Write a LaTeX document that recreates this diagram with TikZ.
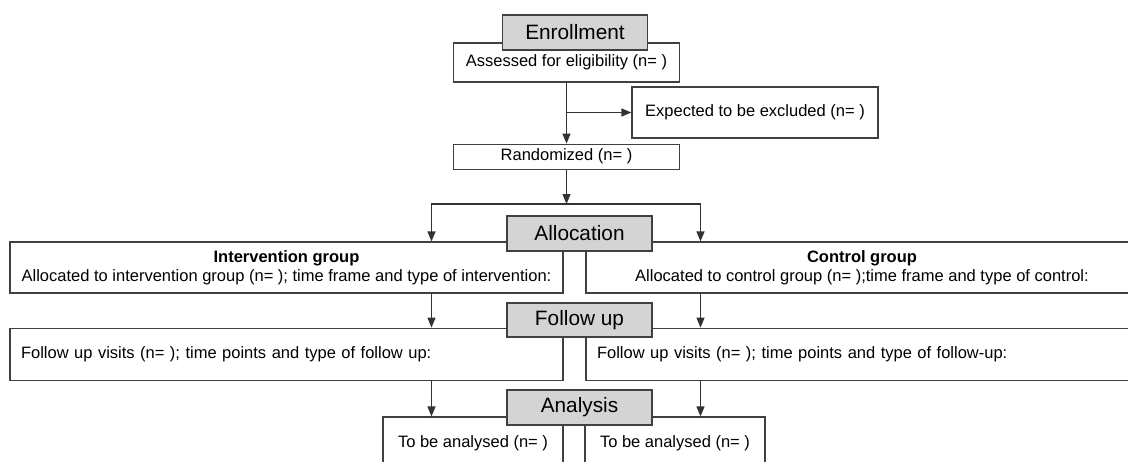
\documentclass[tikz,border=0pt]{standalone}
\usepackage{fontspec}
\setmainfont{Liberation Sans}
\usepackage{tikz}
\usetikzlibrary{positioning, arrows.meta}

\begin{document}
\begin{tikzpicture}[
x=1pt, y=-1pt,
every node/.style={align=center, font=\fontsize{16.5}{19}\selectfont},
boxstyle/.style={draw=black!75, fill=white, line width=1.2pt, inner sep=0pt},
stage/.style={boxstyle, fill=black!17, minimum width=145pt, minimum height=35pt, font=\fontsize{20.8}{24}\selectfont},
group/.style={boxstyle, minimum height=51pt},
visit/.style={boxstyle, minimum height=52pt, align=left, inner xsep=11pt},
result/.style={boxstyle, minimum width=180pt, minimum height=52pt},
conn/.style={draw=black!80, line width=1.2pt, -{Triangle[length=10pt,width=8pt]}}
]
\useasboundingbox (0,0) rectangle (1128,461);
\clip (0,0) rectangle (1128,461);
% Enrollment
\node[boxstyle, minimum width=226pt, minimum height=39pt] (assess) at (566.5,62.5) {Assessed for eligibility (n= )};
\node[stage] (enroll) at (575,32.5) {Enrollment};
\node[boxstyle, minimum width=246pt, minimum height=51pt] (excl) at (755,112.5) {Expected to be excluded (n= )};
\node[boxstyle, minimum width=226pt, minimum height=25pt, below=61pt of assess] (rand) {Randomized (n= )};
\draw[conn] (assess) -- (rand);
\draw[conn] (assess.south |- excl.west) -- (excl.west);
% Allocation
\node[group, minimum width=553pt] (interv) at (286.5,267.5) {\textbf{Intervention group}\\Allocated to intervention group (n= ); time frame and type of intervention:};
\node[group, minimum width=552pt] (ctrl) at (862,267.5) {\textbf{Control group}\\Allocated to control group (n= );time frame and type of control:};
\node[stage] (alloc) at (579.5,233.5) {Allocation};
\coordinate (split) at (566.5,204);
\coordinate (lcol) at (431.5,0);
\coordinate (rcol) at (700.5,0);
\draw[conn] (rand) -- (split);
\draw[conn] (split) -| (lcol |- interv.north);
\draw[conn] (split) -| (rcol |- ctrl.north);
% Follow up
\node[visit, text width=531pt, below=34pt of interv] (fupL) {Follow up visits (n= ); time points and type of follow up:};
\node[visit, text width=530pt, below=34pt of ctrl] (fupR) {Follow up visits (n= ); time points and type of follow-up:};
\node[stage, minimum height=34pt] (fup) at (579.5,320) {Follow up};
\draw[conn] (lcol |- interv.south) -- (lcol |- fupL.north);
\draw[conn] (rcol |- ctrl.south) -- (rcol |- fupR.north);
% Analysis
\node[result] (anaL) at (473,443) {To be analysed (n= )};
\node[result] (anaR) at (675,443) {To be analysed (n= )};
\node[stage] (anal) at (579.5,407.5) {Analysis};
\draw[conn] (lcol |- fupL.south) -- (lcol |- anaL.north);
\draw[conn] (rcol |- fupR.south) -- (rcol |- anaR.north);
\end{tikzpicture}
\end{document}
